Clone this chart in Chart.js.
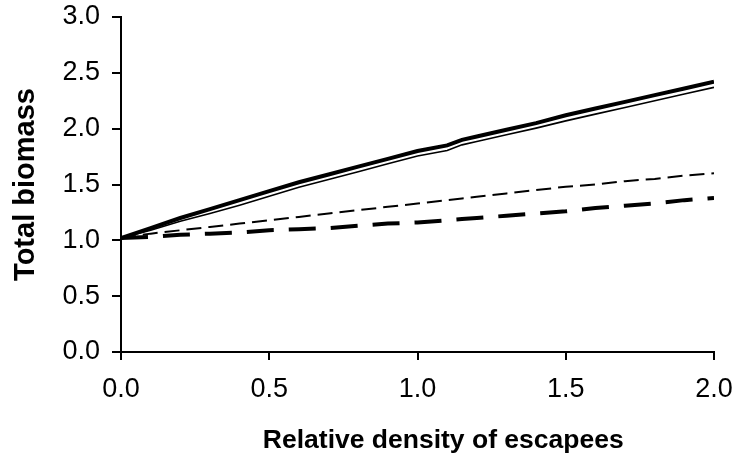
<!DOCTYPE html>
<html lang="en">
<head>
    <meta charset="UTF-8">
    <title>Total biomass vs relative density of escapees</title>
    <style>
        body {
            margin: 0;
            background: #fff;
        }
        #biomassChart {
            display: block;
        }
    </style>
    <script src="https://cdn.jsdelivr.net/npm/chart.js"></script>
</head>
<body>
    <canvas id="biomassChart" width="734" height="459"></canvas>

    <script>
        // x positions (relative density of escapees)
        const density = [0, 0.1, 0.2, 0.3, 0.4, 0.5, 0.6, 0.7, 0.8, 0.9, 1.0, 1.1, 1.15, 1.2, 1.3, 1.4, 1.5, 1.6, 1.7, 1.8, 1.9, 2.0];

        // total biomass, one array per curve
        const thickSolid = [1.02, 1.11, 1.20, 1.28, 1.36, 1.44, 1.52, 1.59, 1.66, 1.73, 1.80, 1.85, 1.90, 1.93, 1.99, 2.05, 2.12, 2.18, 2.24, 2.30, 2.36, 2.42];
        const thinSolid = [1.02, 1.09, 1.17, 1.24, 1.315, 1.395, 1.475, 1.545, 1.615, 1.685, 1.755, 1.805, 1.855, 1.885, 1.945, 2.005, 2.07, 2.13, 2.19, 2.25, 2.31, 2.37];
        const thinDashed = [1.02, 1.06, 1.09, 1.12, 1.15, 1.18, 1.21, 1.24, 1.27, 1.30, 1.33, 1.36, 1.375, 1.39, 1.42, 1.45, 1.48, 1.50, 1.53, 1.55, 1.58, 1.60];
        const thickDashed = [1.02, 1.03, 1.05, 1.06, 1.07, 1.09, 1.10, 1.11, 1.13, 1.15, 1.16, 1.18, 1.19, 1.20, 1.22, 1.24, 1.26, 1.29, 1.31, 1.33, 1.36, 1.38];

        const xTicks = [0, 0.5, 1.0, 1.5, 2.0];
        const yTicks = [0, 0.5, 1.0, 1.5, 2.0, 2.5, 3.0];

        const fontFamily = "'Liberation Sans', Arial, sans-serif";

        function toPoints(values) {
            return density.map((x, i) => ({ x: x, y: values[i] }));
        }

        function lineSet(label, values, width, dash) {
            return {
                label: label,
                data: toPoints(values),
                borderColor: '#000',
                borderWidth: width,
                borderDash: dash,
                borderCapStyle: 'butt',
                pointRadius: 0,
                tension: 0,
                fill: false
            };
        }

        const ctx = document.getElementById('biomassChart').getContext('2d');
        const biomassChart = new Chart(ctx, {
            type: 'line',
            data: {
                datasets: [
                    lineSet('thick solid', thickSolid, 4, []),
                    lineSet('thin solid', thinSolid, 1.6, []),
                    lineSet('thin dashed', thinDashed, 2, [15, 7]),
                    lineSet('thick dashed', thickDashed, 4, [27, 15])
                ]
            },
            options: {
                responsive: false,
                animation: false,
                layout: {
                    padding: { left: 0, right: 20, top: 17, bottom: 0 }
                },
                plugins: {
                    legend: { display: false },
                    tooltip: { enabled: false }
                },
                scales: {
                    x: {
                        type: 'linear',
                        min: 0,
                        max: 2,
                        afterBuildTicks: scale => {
                            scale.ticks = xTicks.map(v => ({ value: v }));
                        },
                        afterFit: scale => {
                            scale.height = 459 - 352;
                            // let the layout padding decide the plot edges
                            scale.paddingLeft = 0;
                            scale.paddingRight = 0;
                        },
                        border: { color: '#000', width: 2 },
                        grid: {
                            drawOnChartArea: false,
                            drawTicks: true,
                            tickLength: 8,
                            color: '#000',
                            lineWidth: 2
                        },
                        ticks: {
                            color: '#000',
                            padding: 13,
                            maxRotation: 0,
                            font: { family: fontFamily, size: 27 },
                            callback: v => v.toFixed(1)
                        },
                        title: {
                            display: true,
                            // leading spaces push the title right, as in the original
                            text: '       Relative density of escapees',
                            color: '#000',
                            padding: { top: 0, bottom: 2 },
                            font: { family: fontFamily, size: 26.5, weight: 'bold' }
                        }
                    },
                    y: {
                        min: 0,
                        max: 3,
                        afterBuildTicks: scale => {
                            scale.ticks = yTicks.map(v => ({ value: v }));
                        },
                        afterFit: scale => {
                            scale.width = 121;
                            scale.paddingTop = 0;
                            scale.paddingBottom = 0;
                        },
                        border: { color: '#000', width: 2 },
                        grid: {
                            drawOnChartArea: false,
                            drawTicks: true,
                            tickLength: 9,
                            color: '#000',
                            lineWidth: 2
                        },
                        ticks: {
                            color: '#000',
                            padding: 12,
                            font: { family: fontFamily, size: 27 },
                            callback: v => v.toFixed(1)
                        },
                        title: {
                            display: true,
                            text: 'Total biomass',
                            color: '#000',
                            padding: { top: 9, bottom: 0 },
                            font: { family: fontFamily, size: 29, weight: 'bold' }
                        }
                    }
                }
            }
        });
    </script>
</body>
</html>
